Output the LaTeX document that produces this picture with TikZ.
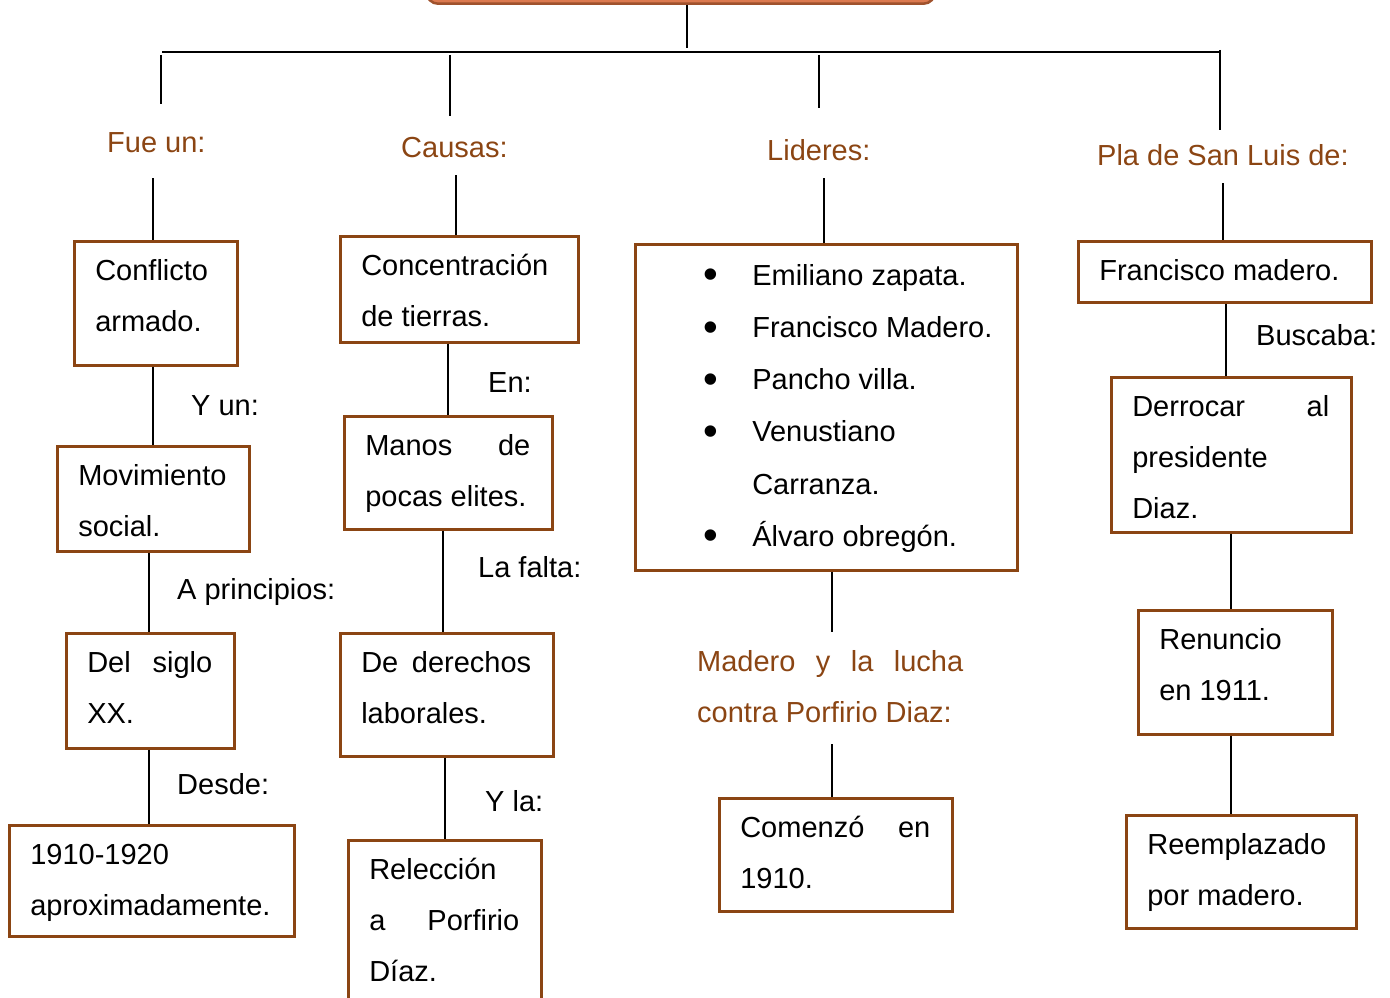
\documentclass[tikz,border=0pt]{standalone}
\usepackage{fontspec}
\usepackage{graphicx}
\setmainfont{Liberation Sans}
\definecolor{brn}{HTML}{8B4513}
\definecolor{topfill}{HTML}{DC7A50}
\definecolor{topdraw}{HTML}{A0522D}
\newcommand\bx[3]{\parbox[c][#2pt][t]{#1pt}{\leftskip=21pt\rightskip=0pt plus 1fil\rule{0pt}{39pt}#3}}
\newcommand\js[2]{\makebox[#1pt][s]{#2}}
\newcommand\bul{\makebox[117pt][l]{\hspace*{68pt}\raisebox{-3.5pt}{\scalebox{1.45}{•}}}}
\begin{document}
\begin{tikzpicture}[x=1pt,y=-1pt,
  font=\fontsize{29}{51}\selectfont,
  box/.style={draw=brn, line width=2.6pt, inner sep=0pt, anchor=north west, fill=white},
  lab/.style={anchor=base west, inner sep=0pt},
  blab/.style={lab, text=brn},
  conn/.style={draw=black, line width=1.1pt}]
\useasboundingbox (0,0) rectangle (1390,998);
\clip (0,0) rectangle (1390,998);
% column x positions
\foreach \n/\v in {a/153,b/149,c/448,d/443,e/445,f/456,g/824,h/832,i/1223,j/1226,k/1231}
  \coordinate (x\n) at (\v,0);
% title box (cut off at top)
\node[draw=topdraw, fill=topfill, line width=2.5pt, rounded corners=12pt,
  minimum width=509pt, minimum height=60pt, anchor=south west] (title) at (425,5) {};
% labels
\node[blab] (fue) at (107,152) {Fue un:};
\node[blab] (cau) at (401,157) {Causas:};
\node[blab] (lidl) at (767,160) {Lideres:};
\node[blab] (pla) at (1097,165) {Pla de San Luis de:};
\node[lab] (yun) at (191,415) {Y un:};
\node[lab] (apr) at (177,599) {A principios:};
\node[lab] (des) at (177,794) {Desde:};
\node[lab] (en) at (488,392) {En:};
\node[lab] (laf) at (478,577) {La falta:};
\node[lab] (yla) at (485,811) {Y la:};
\node[lab] (bus) at (1256,345) {Buscaba:};
\node[blab] (mad) at (697,671) {\parbox[t]{266pt}{\js{266}{Madero y la lucha}\\contra Porfirio Diaz:}};
% boxes
\node[box] (conf) at (73,240) {\bx{163}{124}{Conflicto\\armado.}};
\node[box] (mov) at (56,445) {\bx{192}{105}{Movimiento\\social.}};
\node[box] (siglo) at (65,632) {\bx{168}{115}{\js{125}{Del siglo}\\XX.}};
\node[box] (years) at (8,824) {\bx{285}{111}{1910-1920\\aproximadamente.}};
\node[box] (conc) at (339,235) {\bx{238}{106}{Concentración\\de tierras.}};
\node[box] (manos) at (343,415) {\bx{208}{113}{\js{165}{Manos de}\\pocas elites.}};
\node[box] (der) at (339,632) {\bx{213}{123}{\js{170}{De derechos}\\laborales.}};
\node[box] (rel) at (347,839) {\bx{193}{200}{Relección\\\js{150}{a Porfirio}\\Díaz.}};
\node[box] (lid) at (634,243) {\parbox[c][326pt][t]{382pt}{\baselineskip=52.2pt\rule{0pt}{41pt}%
  \bul Emiliano zapata.\\\bul Francisco Madero.\\\bul Pancho villa.\\\bul Venustiano\\\hspace*{117pt}Carranza.\\\bul Álvaro obregón.}};
\node[box] (com) at (718,797) {\bx{233}{113}{\js{190}{Comenzó en}\\1910.}};
\node[box] (fm) at (1077,240) {\bx{293}{61}{Francisco madero.}};
\node[box] (derr) at (1110,376) {\bx{240}{155}{\js{197}{Derrocar al}\\presidente\\Diaz.}};
\node[box] (ren) at (1137,609) {\bx{194}{124}{Renuncio\\en 1911.}};
\node[box] (reem) at (1125,814) {\bx{230}{113}{Reemplazado\\por madero.}};
% free ends
\coordinate (barL) at (162,52);
\coordinate (barR) at (1221,52);
\coordinate (tb) at (687,48);
\coordinate (d1t) at (161,55); \coordinate (d1b) at (161,104);
\coordinate (d2t) at (450,55); \coordinate (d2b) at (450,116);
\coordinate (d3t) at (819,55); \coordinate (d3b) at (819,108);
\coordinate (d4t) at (1220,50); \coordinate (d4b) at (1220,130);
\coordinate (fueB) at (153,178);
\coordinate (cauB) at (456,175);
\coordinate (lidB) at (824,178);
\coordinate (plaB) at (1223,183);
\coordinate (madT) at (832,632);
\coordinate (madB) at (832,744);
% connectors
\draw[conn] (title.south -| tb) -- (tb);
\draw[conn] (barL) -- (barR);
\draw[conn] (d1t) -- (d1b);
\draw[conn] (d2t) -- (d2b);
\draw[conn] (d3t) -- (d3b);
\draw[conn] (d4t) -- (d4b);
\draw[conn] (fueB) -- (conf.north -| xa);
\draw[conn] (cauB) -- (conc.north -| xf);
\draw[conn] (lidB) -- (lid.north -| xg);
\draw[conn] (plaB) -- (fm.north -| xi);
\draw[conn] (conf.south -| xa) -- (mov.north -| xa);
\draw[conn] (mov.south -| xb) -- (siglo.north -| xb);
\draw[conn] (siglo.south -| xb) -- (years.north -| xb);
\draw[conn] (conc.south -| xc) -- (manos.north -| xc);
\draw[conn] (manos.south -| xd) -- (der.north -| xd);
\draw[conn] (der.south -| xe) -- (rel.north -| xe);
\draw[conn] (lid.south -| xh) -- (madT);
\draw[conn] (madB) -- (com.north -| xh);
\draw[conn] (fm.south -| xj) -- (derr.north -| xj);
\draw[conn] (derr.south -| xk) -- (ren.north -| xk);
\draw[conn] (ren.south -| xk) -- (reem.north -| xk);
\end{tikzpicture}
\end{document}
